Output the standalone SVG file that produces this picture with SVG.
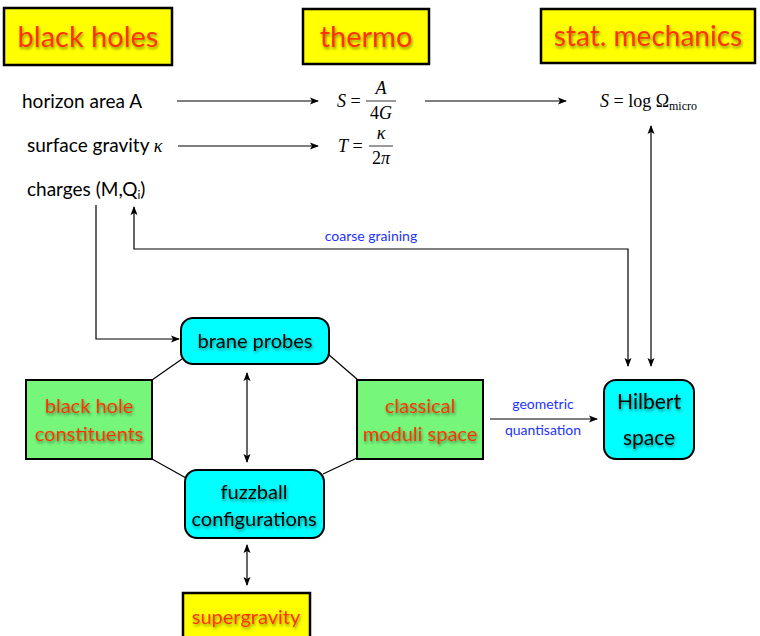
<svg xmlns="http://www.w3.org/2000/svg" width="760" height="636" viewBox="0 0 760 636">
<style>
.hdr{fill:#ffff00;stroke:#000;stroke-width:2.5}
.grn{fill:#77f77a;stroke:#000;stroke-width:2}
.cyan{fill:#00ffff;stroke:#000;stroke-width:2}
.red{font-family:Lato,"Open Sans",sans-serif;fill:#ff3300;text-anchor:middle;filter:url(#sh)}
.blk{font-family:Lato,"Open Sans",sans-serif;fill:#000;text-anchor:middle;filter:url(#sh)}
.lbl{font-family:Lato,"Open Sans",sans-serif;fill:#000;font-size:19px}
.blue{font-family:Lato,"Open Sans",sans-serif;fill:#2233ff;font-size:14px;text-anchor:middle}
.math{font-family:"Liberation Serif","DejaVu Serif",serif;fill:#000;font-size:18px}
.it{font-style:italic}
.ln{fill:none;stroke:#000;stroke-width:1.2}
</style>
<defs>
<filter id="sh" x="-10%" y="-20%" width="120%" height="150%">
<feDropShadow dx="1" dy="2" stdDeviation="1.5" flood-color="#000" flood-opacity="0.45"/>
</filter>
<marker id="ah" markerWidth="9" markerHeight="8" refX="8" refY="4" orient="auto-start-reverse" markerUnits="userSpaceOnUse">
<path d="M0,0.5 L9,4 L0,7.5 L2,4 z" fill="#000"/>
</marker>
</defs>

<g id="hdr-blackholes"><rect class="hdr" x="4" y="8" width="168" height="57"/><text class="red" x="88" y="47" font-size="29">black holes</text></g>
<g id="hdr-thermo"><rect class="hdr" x="303" y="9" width="126" height="55"/><text class="red" x="366" y="47" font-size="29">thermo</text></g>
<g id="hdr-stat"><rect class="hdr" x="541" y="9" width="214" height="54"/><text class="red" x="648" y="46" font-size="28">stat. mechanics</text></g>

<g id="horizon"><text class="lbl" x="22" y="108">horizon area  A</text></g>
<g id="surface"><text class="lbl" x="27" y="152">surface gravity <tspan class="math it" font-size="20">κ</tspan></text></g>
<g id="charges"><text class="lbl" x="27" y="196">charges (M,Q<tspan font-size="12" dy="3">i</tspan><tspan dy="-3">)</tspan></text></g>

<g id="entropy">
<text class="math" x="337" y="107"><tspan class="it">S</tspan> =</text>
<line x1="366" y1="101" x2="396" y2="101" stroke="#000" stroke-width="0.8"/>
<text class="math it" x="381" y="94" text-anchor="middle" font-size="17">A</text>
<text class="math" x="381" y="119" text-anchor="middle" font-size="17">4<tspan class="it">G</tspan></text>
</g>
<g id="temperature">
<text class="math" x="338" y="152"><tspan class="it">T</tspan> =</text>
<line x1="369" y1="146" x2="393" y2="146" stroke="#000" stroke-width="0.8"/>
<text class="math it" x="381" y="139" text-anchor="middle" font-size="17">κ</text>
<text class="math" x="381" y="164" text-anchor="middle" font-size="17">2<tspan class="it">π</tspan></text>
</g>
<g id="statentropy">
<text class="math" x="600" y="107"><tspan class="it">S</tspan> = log Ω<tspan font-size="12" dy="3">micro</tspan></text>
</g>

<g id="brane"><rect class="cyan" x="181" y="318" width="148" height="46" rx="12"/><text class="blk" x="255" y="348" font-size="20">brane probes</text></g>
<g id="bhc"><rect class="grn" x="26" y="380" width="126" height="79"/><text class="red" x="89" y="413" font-size="20">black hole</text><text class="red" x="89" y="441" font-size="20">constituents</text></g>
<g id="moduli"><rect class="grn" x="357" y="380" width="126" height="79"/><text class="red" x="420" y="413" font-size="20">classical</text><text class="red" x="420" y="441" font-size="20">moduli space</text></g>
<g id="fuzzball"><rect class="cyan" x="185" y="470" width="139" height="68" rx="12"/><text class="blk" x="254" y="499" font-size="20">fuzzball</text><text class="blk" x="254" y="526" font-size="20">configurations</text></g>
<g id="hilbert"><rect class="cyan" x="604" y="380" width="90" height="79" rx="12"/><text class="blk" x="649" y="409" font-size="21">Hilbert</text><text class="blk" x="649" y="445" font-size="21">space</text></g>
<g id="sugra"><rect class="hdr" x="183" y="593" width="127" height="50" stroke-width="2"/><text class="red" x="246" y="624" font-size="20">supergravity</text></g>

<g id="connectors">
<path class="ln" d="M177,101 H318" marker-end="url(#ah)"/>
<path class="ln" d="M425,101 H566" marker-end="url(#ah)"/>
<path class="ln" d="M178,146 H318" marker-end="url(#ah)"/>
<path class="ln" d="M96,205 V339 H179" marker-end="url(#ah)"/>
<path class="ln" d="M628,366 V249 H134 V207" marker-start="url(#ah)" marker-end="url(#ah)"/>
<path class="ln" d="M651,126 V366" marker-start="url(#ah)" marker-end="url(#ah)"/>
<path class="ln" d="M490,419 H597" marker-end="url(#ah)"/>
<path class="ln" d="M247,373 V462" marker-start="url(#ah)" marker-end="url(#ah)"/>
<path class="ln" d="M247,545 V585" marker-start="url(#ah)" marker-end="url(#ah)"/>
<path class="ln" d="M182,359 L152,380"/>
<path class="ln" d="M328,354 L358,380"/>
<path class="ln" d="M152,459 L186,478"/>
<path class="ln" d="M357,458 L323,474"/>
<text class="blue" x="371" y="241">coarse graining</text>
<text class="blue" x="543" y="409">geometric</text>
<text class="blue" x="543" y="435">quantisation</text>
</g>
</svg>
